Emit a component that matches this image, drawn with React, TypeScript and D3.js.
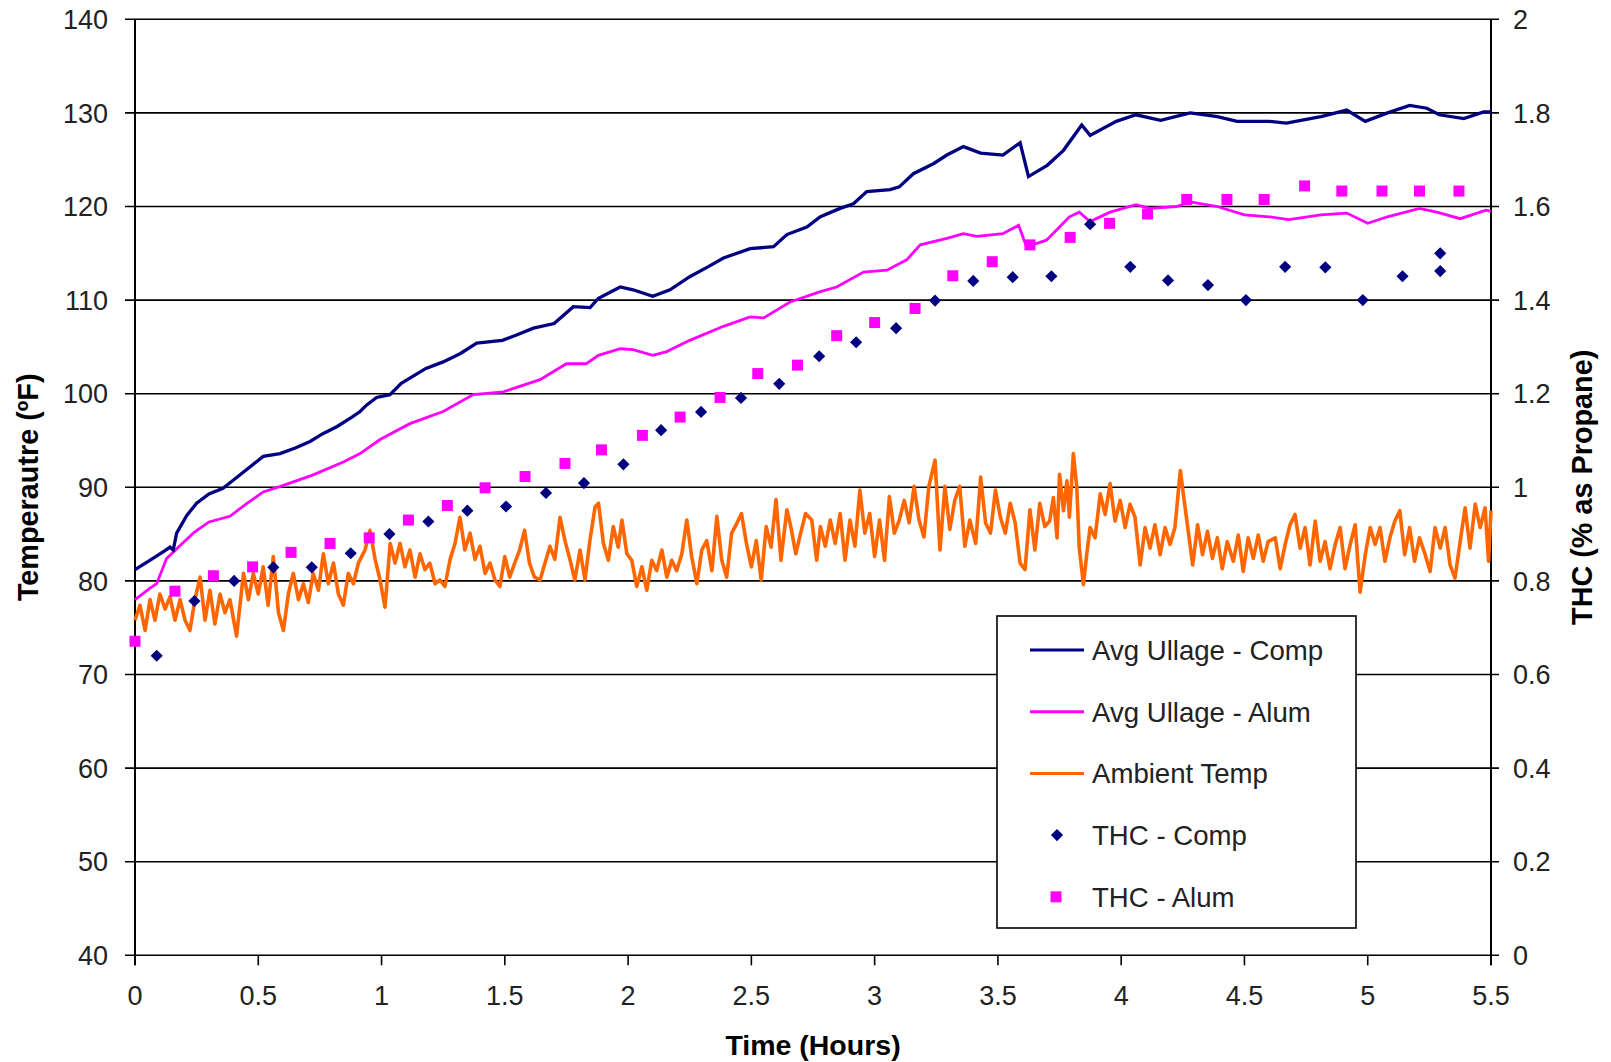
import React from 'react';
import * as d3 from 'd3';

// tick values
const timeTicks = [0, 0.5, 1, 1.5, 2, 2.5, 3, 3.5, 4, 4.5, 5, 5.5];
const tempTicks = [40, 50, 60, 70, 80, 90, 100, 110, 120, 130, 140];
const thcTicks = ['0', '0.2', '0.4', '0.6', '0.8', '1', '1.2', '1.4', '1.6', '1.8', '2'];

// [hours, degF]
const avgComp: [number, number][] = [
  [0, 81.2], [0.06, 82.2], [0.12, 83.2], [0.142, 83.6], [0.155, 83.3], [0.169, 85.1], [0.21, 87],
  [0.25, 88.3], [0.3, 89.3], [0.357, 89.9], [0.42, 91.2], [0.52, 93.3], [0.588, 93.6], [0.65, 94.2],
  [0.71, 94.9], [0.76, 95.7], [0.82, 96.5], [0.88, 97.5], [0.913, 98.1], [0.94, 98.8], [0.98, 99.6],
  [1.034, 99.9], [1.08, 101.1], [1.18, 102.7], [1.25, 103.4], [1.32, 104.3], [1.386, 105.4],
  [1.49, 105.7], [1.55, 106.3], [1.616, 107], [1.7, 107.5], [1.778, 109.3], [1.846, 109.2],
  [1.88, 110.2], [1.968, 111.4], [2.02, 111.1], [2.1, 110.4], [2.17, 111.1], [2.25, 112.5],
  [2.32, 113.5], [2.387, 114.5], [2.495, 115.5], [2.59, 115.7], [2.644, 117], [2.725, 117.8],
  [2.78, 118.9], [2.86, 119.8], [2.914, 120.3], [2.968, 121.6], [3.063, 121.8], [3.1, 122.1],
  [3.157, 123.5], [3.24, 124.6], [3.293, 125.5], [3.36, 126.4], [3.43, 125.7], [3.52, 125.5],
  [3.59, 126.8], [3.624, 123.2], [3.7, 124.4], [3.766, 126], [3.84, 128.7], [3.874, 127.6],
  [3.98, 129.1], [4.06, 129.8], [4.16, 129.2], [4.28, 130], [4.39, 129.6], [4.47, 129.1],
  [4.6, 129.1], [4.67, 128.9], [4.81, 129.6], [4.915, 130.3], [4.99, 129.1], [5.08, 130],
  [5.17, 130.8], [5.24, 130.5], [5.29, 129.8], [5.39, 129.4], [5.47, 130.1], [5.5, 130.1],
];

const avgAlum: [number, number][] = [
  [0, 78], [0.06, 79.2], [0.088, 79.7], [0.128, 82.4], [0.18, 83.7], [0.24, 85.2], [0.3, 86.3],
  [0.385, 86.9], [0.45, 88.2], [0.52, 89.5], [0.59, 90.1], [0.72, 91.3], [0.845, 92.7],
  [0.913, 93.6], [0.994, 95.1], [1.115, 96.8], [1.25, 98.1], [1.372, 99.9], [1.494, 100.2],
  [1.643, 101.5], [1.75, 103.2], [1.83, 103.2], [1.88, 104.1], [1.968, 104.8], [2.02, 104.7],
  [2.1, 104.1], [2.157, 104.5], [2.25, 105.7], [2.387, 107.2], [2.495, 108.2], [2.55, 108.1],
  [2.657, 109.8], [2.78, 110.9], [2.846, 111.4], [2.955, 113], [3.05, 113.2], [3.13, 114.3],
  [3.185, 115.9], [3.293, 116.6], [3.36, 117.1], [3.415, 116.8], [3.52, 117.1], [3.584, 118],
  [3.616, 115.7], [3.697, 116.4], [3.746, 117.7], [3.79, 118.9], [3.83, 119.4], [3.874, 118.4],
  [3.955, 119.4], [4.06, 120.2], [4.116, 119.8], [4.225, 120], [4.28, 120.5], [4.39, 120],
  [4.5, 119.1], [4.6, 118.9], [4.68, 118.6], [4.81, 119.1], [4.915, 119.3], [5.0, 118.2],
  [5.08, 118.9], [5.21, 119.8], [5.28, 119.4], [5.375, 118.7], [5.48, 119.6], [5.5, 119.5],
];

const ambient: [number, number][] = [
  [0, 75.8], [0.02, 77.4], [0.041, 74.7], [0.061, 78], [0.081, 75.8], [0.101, 78.6], [0.122, 77],
  [0.142, 78.3], [0.162, 75.8], [0.183, 78], [0.203, 75.8], [0.223, 74.7], [0.243, 78], [0.264, 80.4],
  [0.284, 75.8], [0.304, 79], [0.324, 75.4], [0.345, 78.6], [0.365, 76.6], [0.385, 78], [0.412, 74.1],
  [0.44, 80.8], [0.46, 78], [0.48, 80.8], [0.5, 78.6], [0.52, 81.5], [0.54, 77.4], [0.561, 82.6],
  [0.582, 76.6], [0.602, 74.7], [0.622, 78.6], [0.642, 80.8], [0.663, 78], [0.683, 79.7], [0.703, 77.7],
  [0.723, 80.8], [0.744, 79], [0.764, 82.9], [0.784, 79.7], [0.805, 81.9], [0.825, 78.6], [0.845, 77.4],
  [0.865, 80.8], [0.886, 79.7], [0.906, 81.9], [0.933, 83.3], [0.953, 85.4], [0.974, 82.3], [0.994, 80.1],
  [1.014, 77.2], [1.035, 84], [1.055, 81.9], [1.075, 84], [1.095, 81.5], [1.115, 83.3], [1.136, 80.4],
  [1.156, 82.9], [1.176, 81.2], [1.196, 81.9], [1.217, 79.7], [1.237, 80.1], [1.257, 79.4], [1.278, 82.3],
  [1.298, 84], [1.318, 86.8], [1.338, 83.3], [1.359, 85.1], [1.379, 82.3], [1.399, 83.7], [1.42, 80.8],
  [1.44, 81.9], [1.46, 80.1], [1.48, 79.4], [1.5, 82.6], [1.52, 80.4], [1.54, 81.9], [1.56, 83.3],
  [1.58, 85.4], [1.6, 81.9], [1.62, 80.4], [1.643, 80.1], [1.663, 81.9], [1.683, 83.7], [1.703, 82.3],
  [1.724, 86.8], [1.744, 84.3], [1.764, 82.3], [1.784, 80.1], [1.805, 83.3], [1.825, 80.1], [1.845, 84.3],
  [1.866, 87.9], [1.88, 88.3], [1.9, 84], [1.92, 82.2], [1.94, 85.8], [1.96, 83.6], [1.975, 86.5],
  [1.995, 82.9], [2.015, 82.2], [2.035, 79.4], [2.056, 81.5], [2.076, 79], [2.096, 82.2], [2.116, 81.1],
  [2.137, 83.3], [2.157, 80.4], [2.177, 82.2], [2.197, 81.1], [2.218, 82.9], [2.238, 86.5], [2.258, 82.6],
  [2.279, 79.7], [2.299, 83.3], [2.319, 84.3], [2.34, 81.1], [2.36, 86.9], [2.38, 82.2], [2.4, 80.4],
  [2.42, 85.1], [2.44, 86.1], [2.46, 87.2], [2.48, 84], [2.5, 81.5], [2.52, 84.3], [2.54, 80.1],
  [2.56, 85.8], [2.58, 83.6], [2.6, 88.7], [2.62, 82.2], [2.644, 87.6], [2.66, 85.8], [2.68, 82.9],
  [2.7, 85.1], [2.72, 87.2], [2.745, 86.5], [2.765, 82.2], [2.78, 85.8], [2.8, 83.7], [2.82, 86.5],
  [2.84, 84], [2.86, 87.2], [2.88, 82.2], [2.9, 86.5], [2.92, 83.7], [2.94, 89.7], [2.96, 85.1],
  [2.98, 87.2], [3.0, 82.6], [3.02, 86.5], [3.04, 82.2], [3.06, 89], [3.08, 85.1], [3.1, 86.5],
  [3.12, 88.6], [3.14, 86.2], [3.16, 90.1], [3.18, 86.5], [3.2, 84.7], [3.22, 90.1], [3.245, 92.9],
  [3.265, 83.3], [3.285, 90.1], [3.305, 85.5], [3.325, 88.6], [3.345, 90.1], [3.366, 83.7], [3.386, 86.5],
  [3.41, 84], [3.43, 91.1], [3.45, 86.2], [3.47, 85.1], [3.49, 89.7], [3.51, 86.8], [3.53, 85.1],
  [3.55, 88.3], [3.57, 86.2], [3.59, 81.9], [3.61, 81.2], [3.63, 87.6], [3.65, 83.3], [3.67, 88.3],
  [3.69, 85.8], [3.71, 86.4], [3.725, 88.9], [3.74, 84.6], [3.75, 91.4], [3.766, 87.5], [3.78, 90.7],
  [3.79, 86.8], [3.806, 93.6], [3.82, 90], [3.83, 83.5], [3.847, 79.6], [3.86, 82.8], [3.874, 85.7],
  [3.894, 84.6], [3.915, 89.3], [3.935, 87.1], [3.955, 90.4], [3.975, 86.4], [3.996, 88.6], [4.016, 85.7],
  [4.036, 88.2], [4.056, 86.8], [4.077, 81.7], [4.097, 85.7], [4.117, 83.5], [4.137, 86], [4.158, 82.8],
  [4.178, 85.7], [4.198, 83.9], [4.218, 85.7], [4.24, 91.8], [4.252, 89.3], [4.27, 85.7], [4.29, 81.7],
  [4.31, 86], [4.33, 82.8], [4.35, 85.3], [4.37, 82.4], [4.39, 84.6], [4.41, 81.3], [4.43, 84.2],
  [4.455, 82.1], [4.475, 84.9], [4.495, 81], [4.515, 84.6], [4.536, 82.4], [4.556, 84.9], [4.576, 82.1],
  [4.596, 84.2], [4.625, 84.6], [4.645, 81.3], [4.665, 83.9], [4.685, 86], [4.705, 87.1], [4.726, 83.5],
  [4.746, 85.7], [4.766, 81.7], [4.787, 86.4], [4.807, 82.1], [4.827, 84.2], [4.847, 81.3], [4.868, 83.9],
  [4.888, 85.7], [4.908, 81.3], [4.929, 83.9], [4.949, 86], [4.969, 78.8], [4.99, 82.8], [5.01, 85.7],
  [5.03, 83.9], [5.05, 85.7], [5.07, 82.1], [5.09, 84.6], [5.11, 86.4], [5.13, 87.5], [5.15, 82.8],
  [5.17, 85.7], [5.19, 82.1], [5.21, 84.6], [5.233, 82.8], [5.253, 81], [5.273, 85.7], [5.294, 83.5],
  [5.314, 85.7], [5.334, 81.7], [5.354, 80.3], [5.375, 84.2], [5.395, 87.8], [5.415, 83.5], [5.436, 88.2],
  [5.456, 85.7], [5.476, 87.8], [5.49, 82.1], [5.5, 87.5],
];

// [hours, % as propane]
const thcComp: [number, number][] = [
  [0.088, 0.64], [0.241, 0.757], [0.402, 0.8], [0.561, 0.829], [0.717, 0.829], [0.875, 0.859],
  [1.032, 0.9], [1.19, 0.927], [1.348, 0.95], [1.505, 0.959], [1.667, 0.988], [1.821, 1.009],
  [1.981, 1.049], [2.134, 1.122], [2.296, 1.161], [2.458, 1.191], [2.613, 1.221], [2.775, 1.28],
  [2.925, 1.31], [3.087, 1.34], [3.245, 1.399], [3.4, 1.441], [3.56, 1.449], [3.717, 1.451],
  [3.874, 1.562], [4.037, 1.471], [4.19, 1.442], [4.352, 1.432], [4.506, 1.4], [4.665, 1.471],
  [4.828, 1.47], [4.98, 1.4], [5.141, 1.451], [5.294, 1.5], [5.294, 1.462],
];

const thcAlum: [number, number][] = [
  [0, 0.671], [0.162, 0.778], [0.318, 0.811], [0.477, 0.83], [0.633, 0.861], [0.791, 0.88],
  [0.95, 0.892], [1.109, 0.93], [1.267, 0.961], [1.42, 0.999], [1.582, 1.023], [1.744, 1.051],
  [1.892, 1.08], [2.058, 1.111], [2.211, 1.15], [2.373, 1.192], [2.526, 1.243], [2.687, 1.261],
  [2.846, 1.324], [3.0, 1.352], [3.164, 1.382], [3.317, 1.452], [3.477, 1.482], [3.63, 1.518],
  [3.793, 1.534], [3.953, 1.564], [4.107, 1.584], [4.266, 1.615], [4.429, 1.615], [4.58, 1.615],
  [4.744, 1.644], [4.895, 1.633], [5.058, 1.633], [5.21, 1.633], [5.37, 1.633],
];

const NAVY = '#000080';
const MAGENTA = '#ff00ff';
const ORANGE = '#ff6600';
const FONT = '"Liberation Sans", Arial, sans-serif';

const legendItems = [
  { label: 'Avg Ullage - Comp', kind: 'line', color: NAVY },
  { label: 'Avg Ullage - Alum', kind: 'line', color: MAGENTA },
  { label: 'Ambient Temp', kind: 'line', color: ORANGE },
  { label: 'THC - Comp', kind: 'diamond', color: NAVY },
  { label: 'THC - Alum', kind: 'square', color: MAGENTA },
];

export default function App() {
  const left = 135, right = 1491, top = 19.3, bottom = 955.3;

  const x = d3.scaleLinear().domain([0, 5.5]).range([left, right]);
  const yT = d3.scaleLinear().domain([40, 140]).range([bottom, top]);
  const yH = d3.scaleLinear().domain([0, 2]).range([bottom, top]);

  const tempLine = d3.line<[number, number]>().x(d => x(d[0])).y(d => yT(d[1]));
  const diamond = d3.symbol(d3.symbolSquare, 74)();
  const square = d3.symbol(d3.symbolSquare, 121)();

  const lx = 997, ly = 616, lw = 359, lh = 312;

  return (
    <svg width={1611} height={1062} style={{ position: 'absolute', left: 0, top: 0, background: '#fff' }}
      fontFamily={FONT}>
      {/* gridlines + left ticks */}
      {tempTicks.map(t => (
        <g key={'g' + t}>
          <line x1={left - 10} x2={right + 8} y1={yT(t)} y2={yT(t)} stroke="#000" strokeWidth={1.6} />
          <text x={108} y={yT(t)} dy="0.36em" textAnchor="end" fontSize={27} fill="#222">{t}</text>
        </g>
      ))}
      {thcTicks.map((t, i) => (
        <text key={'r' + t} x={1513} y={yH(i * 0.2)} dy="0.36em" fontSize={27} fill="#222">{t}</text>
      ))}
      {/* axes */}
      <line x1={left} x2={left} y1={top} y2={bottom + 10} stroke="#000" strokeWidth={2} />
      <line x1={right} x2={right} y1={top} y2={bottom + 10} stroke="#000" strokeWidth={2} />
      {timeTicks.map(t => (
        <g key={'x' + t}>
          <line x1={x(t)} x2={x(t)} y1={bottom} y2={bottom + 10} stroke="#000" strokeWidth={1.6} />
          <text x={x(t)} y={1005} textAnchor="middle" fontSize={27} fill="#222">{t}</text>
        </g>
      ))}

      {/* series */}
      <path d={tempLine(ambient) ?? ''} fill="none" stroke={ORANGE} strokeWidth={3.6} strokeLinejoin="round" />
      <path d={tempLine(avgAlum) ?? ''} fill="none" stroke={MAGENTA} strokeWidth={2.8} />
      <path d={tempLine(avgComp) ?? ''} fill="none" stroke={NAVY} strokeWidth={3.3} />
      {thcComp.map((d, i) => (
        <path key={'c' + i} d={diamond ?? ''} fill={NAVY}
          transform={`translate(${x(d[0])},${yH(d[1])}) rotate(45)`} />
      ))}
      {thcAlum.map((d, i) => (
        <path key={'a' + i} d={square ?? ''} fill={MAGENTA}
          transform={`translate(${x(d[0])},${yH(d[1])})`} />
      ))}

      {/* legend */}
      <rect x={lx} y={ly} width={lw} height={lh} fill="#fff" stroke="#000" strokeWidth={1.6} />
      {legendItems.map((item, i) => {
        const cy = 650 + i * 61.7;
        return (
          <g key={item.label}>
            {item.kind === 'line' && (
              <line x1={1030} x2={1084} y1={cy} y2={cy} stroke={item.color} strokeWidth={3} />
            )}
            {item.kind === 'diamond' && (
              <path d={diamond ?? ''} fill={item.color} transform={`translate(1057,${cy}) rotate(45)`} />
            )}
            {item.kind === 'square' && (
              <path d={square ?? ''} fill={item.color} transform={`translate(1056,${cy})`} />
            )}
            <text x={1092} y={cy} dy="0.36em" fontSize={27.6} fill="#222">{item.label}</text>
          </g>
        );
      })}

      {/* axis titles */}
      <text transform={`translate(28,${(top + bottom) / 2}) rotate(-90)`} textAnchor="middle" dy="0.36em"
        fontSize={28.8} fontWeight="bold" fill="#000">Temperautre (ºF)</text>
      <text transform={`translate(1582,${(top + bottom) / 2}) rotate(-90)`} textAnchor="middle" dy="0.36em"
        fontSize={28.8} fontWeight="bold" fill="#000">THC (% as Propane)</text>
      <text x={(left + right) / 2} y={1055} textAnchor="middle" fontSize={28.5} fontWeight="bold"
        fill="#000">Time (Hours)</text>
    </svg>
  );
}
